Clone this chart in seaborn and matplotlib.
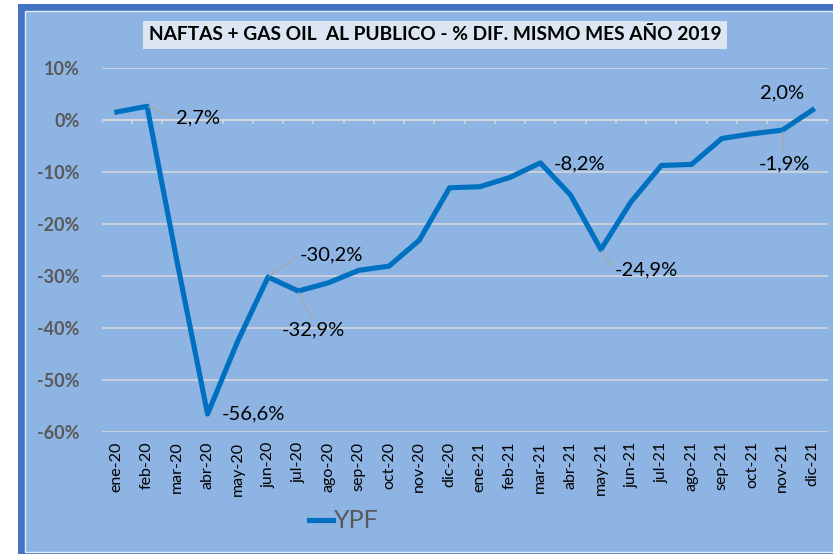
import numpy as np
import pandas as pd
import matplotlib
matplotlib.use("Agg")
import matplotlib.pyplot as plt
from matplotlib.patches import Rectangle
import seaborn as sns

# ---- data ----
months = ["ene-20", "feb-20", "mar-20", "abr-20", "may-20", "jun-20", "jul-20", "ago-20",
          "sep-20", "oct-20", "nov-20", "dic-20", "ene-21", "feb-21", "mar-21", "abr-21",
          "may-21", "jun-21", "jul-21", "ago-21", "sep-21", "oct-21", "nov-21", "dic-21"]
ypf = [1.6, 2.7, -27.5, -56.6, -42.5, -30.2, -32.9, -31.3, -28.9, -28.1, -23.1, -13.0,
       -12.8, -11.0, -8.2, -14.4, -24.9, -15.7, -8.7, -8.5, -3.5, -2.6, -1.9, 2.0]
series_name = "YPF"
title = "NAFTAS + GAS OIL  AL PUBLICO - % DIF. MISMO MES AÑO 2019"
y_ticks = [10, 0, -10, -20, -30, -40, -50, -60]
labelled = ["feb-20", "abr-20", "jun-20", "jul-20", "mar-21", "may-21", "nov-21", "dic-21"]

# label styling (offsets in points, alignment, leader line)
label_style = {
    "feb-20": dict(off=(21, -8), ha="left", va="center", leader=(0, 0.5)),
    "abr-20": dict(off=(10, 0), ha="left", va="center", leader=None),
    "jun-20": dict(off=(23, 16), ha="left", va="center", leader=(0, 0.5)),
    "jul-20": dict(off=(-12, -28), ha="left", va="center", leader=(0.5, 1)),
    "mar-21": dict(off=(10, -1), ha="left", va="center", leader=None),
    "may-21": dict(off=(10, -15), ha="left", va="center", leader=(0, 0.5)),
    "nov-21": dict(off=(1.5, -24), ha="center", va="center", leader=(0.5, 1)),
    "dic-21": dict(off=(-22, 12), ha="center", va="center", leader=None),
}

df = pd.DataFrame({"mes": months, "valor": ypf})

W, H = 833, 554
fig = plt.figure(figsize=(W / 100, H / 100), dpi=100)
fig.patch.set_facecolor("white")

def fx(px):
    return px / W

def fy(py):
    return 1 - py / H

# chart frame
fig.patches.append(Rectangle((fx(18), fy(560)), fx(830), 556 / H, transform=fig.transFigure,
                             facecolor="#4472C4", edgecolor="none", zorder=-3))
fig.patches.append(Rectangle((fx(24.5), fy(552)), fx(820), (552 - 10.5) / H, transform=fig.transFigure,
                             facecolor="#8DB4E2", edgecolor="#E6ECF5", linewidth=1.0, zorder=-2))

left, right, top, bottom = 101.7, 827.7, 68.4, 431.7
ax = fig.add_axes([fx(left), fy(bottom), fx(right - left), (bottom - top) / H])
ax.set_facecolor("none")

sns.lineplot(data=df, x="mes", y="valor", ax=ax, color="#0070C0", linewidth=3.7,
             label=series_name, sort=False, zorder=3)

ax.set_xlim(-0.5, len(months) - 0.5)
ax.set_ylim(-60, 10)
ax.set_yticks(y_ticks)
ax.set_yticklabels([f"{t}%" for t in y_ticks], fontweight="bold", color="#595959",
                   fontsize=13, family="Lato")
ax.grid(axis="y", color="#D9D9D9", linewidth=1.1)
ax.grid(axis="x", visible=False)
ax.set_axisbelow(True)
for s in ax.spines.values():
    s.set_visible(False)
ax.tick_params(axis="y", length=0, pad=16)
ax.set_xticks(range(len(months)))
ax.set_xticklabels(months, rotation=90, fontsize=11.5, color="black", family="Lato")
ax.tick_params(axis="x", length=0, pad=7)
ax.set_xlabel("")
ax.set_ylabel("")

# category axis at 0 with tick marks between categories
ax.axhline(0, color="#D9D9D9", linewidth=1.1, zorder=1)
bounds = np.arange(-0.5, len(months), 1.0)
ax.vlines(bounds, -0.8, 0, color="#D9D9D9", linewidth=1.1, zorder=1)

# data labels
for m in labelled:
    i = months.index(m)
    v = ypf[i]
    st = label_style[m]
    txt = f"{v:.1f}%".replace(".", ",")
    kw = {}
    if st["leader"] is not None:
        kw["arrowprops"] = dict(arrowstyle="-", color="#A6A6A6", lw=0.9,
                                relpos=st["leader"], shrinkA=0, shrinkB=1)
    ax.annotate(txt, xy=(i, v), xytext=st["off"], textcoords="offset points",
                ha=st["ha"], va=st["va"], fontsize=14.5, color="black", family="Lato",
                zorder=4, **kw)

# title
fig.text(fx(435), fy(35), title, ha="center", va="center", fontsize=13.8, fontweight="bold",
         family="Lato", color="black",
         bbox=dict(boxstyle="square,pad=0.3", facecolor="#DCE6F2", edgecolor="none"))

# legend
leg = ax.legend(loc="center", bbox_to_anchor=(fx(344), fy(521)), bbox_transform=fig.transFigure,
                frameon=False, handlelength=0.95, handletextpad=0.05,
                prop=dict(family=["Liberation Sans Narrow", "Lato"], size=18))
for t in leg.get_texts():
    t.set_color("#595959")

fig.savefig("out.png", dpi=100, facecolor="white")
